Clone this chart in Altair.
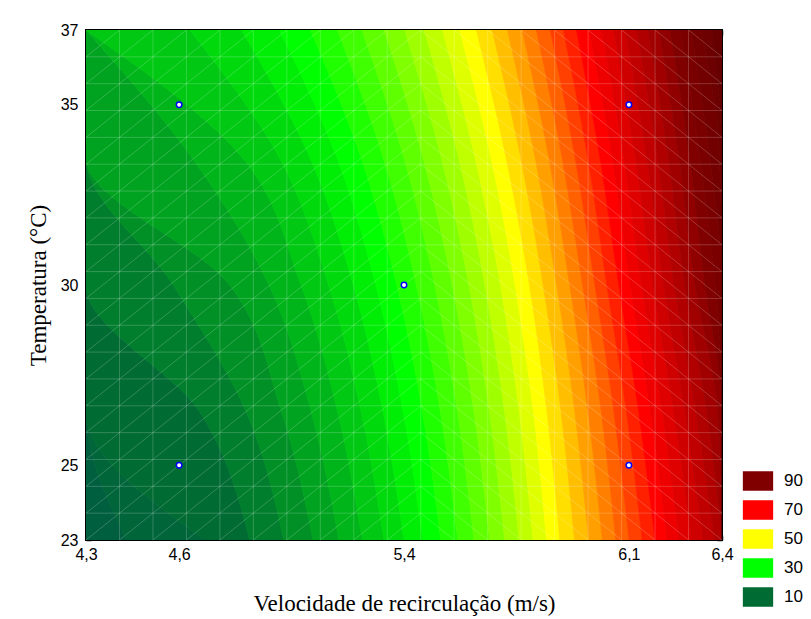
import altair as alt
import pandas as pd

# ---- axis (coded units, labelled with the real factor values) ----
X_MIN, X_MAX = -1.414, 1.414
Y_MIN, Y_MAX = -1.414, 1.414
X_TICKS = [-1.414, -1.0, 0.0, 1.0, 1.414]
X_TICK_LABELS = ["4,3", "4,6", "5,4", "6,1", "6,4"]
Y_TICKS = [-1.414, -1.0, 0.0, 1.0, 1.414]
Y_TICK_LABELS = ["23", "25", "30", "35", "37"]

# ---- contour levels (upper bound of each band) ----
LEVELS = [5, 7.5, 10, 12.5, 15, 17.5, 20, 22.5, 25, 27.5, 30, 32.5, 35, 37.5,
          40, 42.5, 45, 47.5, 50, 52.5, 55, 57.5, 60, 62.5, 65, 67.5, 70,
          72.5, 75, 77.5, 80, 82.5, 85, 87.5, 90, 92.5, 95, 97.5, 100]
TOP_LEVEL = 102.5

# rows (coded temperature) at which contour crossings were read
ROW_Y = [1.414, 0.707, 0.0, -0.707, -1.414]

# x position (coded velocity) where each contour level crosses each row
CROSS_ROW1 = [-1.414, -1.414, -1.414, -1.414, -1.414, -1.414, -1.414, -0.952,
              -0.722, -0.554, -0.416, -0.296, -0.187, -0.088, 0.003, 0.090,
              0.171, 0.248, 0.322, 0.392, 0.460, 0.526, 0.589, 0.650, 0.709,
              0.767, 0.823, 0.878, 0.932, 0.984, 1.035, 1.085, 1.134, 1.183,
              1.230, 1.276, 1.321, 1.367, 1.411]
CROSS_ROW2 = [-1.414, -1.414, -1.414, -1.414, -1.414, -0.943, -0.719, -0.554,
              -0.418, -0.298, -0.191, -0.092, 0.000, 0.085, 0.166, 0.243,
              0.316, 0.387, 0.454, 0.519, 0.583, 0.644, 0.703, 0.761, 0.817,
              0.871, 0.925, 0.977, 1.028, 1.078, 1.127, 1.175, 1.222, 1.269,
              1.315, 1.359, 1.403, 1.414, 1.414]
CROSS_ROW3 = [-1.414, -1.414, -1.414, -1.026, -0.775, -0.600, -0.458, -0.335,
              -0.225, -0.125, -0.032, 0.055, 0.137, 0.215, 0.289, 0.360,
              0.429, 0.494, 0.558, 0.619, 0.679, 0.737, 0.794, 0.849, 0.902,
              0.955, 1.006, 1.056, 1.106, 1.154, 1.201, 1.248, 1.294, 1.338,
              1.383, 1.414, 1.414, 1.414, 1.414]
CROSS_ROW4 = [-1.414, -1.414, -0.906, -0.700, -0.543, -0.411, -0.294, -0.189,
              -0.092, -0.002, 0.083, 0.163, 0.239, 0.312, 0.381, 0.448,
              0.513, 0.576, 0.636, 0.699, 0.760, 0.819, 0.878, 0.934, 0.990,
              1.044, 1.096, 1.148, 1.199, 1.249, 1.298, 1.347, 1.395, 1.414,
              1.414, 1.414, 1.414, 1.414, 1.414]
CROSS_ROW5 = [-1.233, -0.883, -0.686, -0.534, -0.404, -0.289, -0.185, -0.089,
              0.000, 0.084, 0.164, 0.239, 0.311, 0.381, 0.448, 0.512,
              0.574, 0.634, 0.693, 0.758, 0.821, 0.882, 0.942, 1.001, 1.059,
              1.116, 1.170, 1.224, 1.278, 1.330, 1.381, 1.414, 1.414, 1.414,
              1.414, 1.414, 1.414, 1.414, 1.414]

# colour anchors
COLOR_DOMAIN = [0, 10, 30, 50, 70, 90, 105]
COLOR_RANGE = ["#00524a", "#006b33", "#00ff00", "#ffff00", "#ff0000", "#800000", "#5a0000"]
LEGEND_VALUES = [90, 70, 50, 30, 10]

# design points (coded units)
POINT_X = [-1, -1, 0, 1, 1]
POINT_Y = [-1, 1, 0, -1, 1]

# ---- build the band table ----
rows = [CROSS_ROW1, CROSS_ROW2, CROSS_ROW3, CROSS_ROW4, CROSS_ROW5]
uppers = LEVELS + [TOP_LEVEL]
recs = []
for k, u in enumerate(uppers):
    for ry, cross in zip(ROW_Y, rows):
        left = X_MIN if k == 0 else cross[k - 1]
        right = cross[k] if k < len(LEVELS) else X_MAX
        recs.append({"level": u, "band": k, "ty": ry, "vx": left, "vx2": right})
bands = pd.DataFrame(recs)
points = pd.DataFrame({"vx": POINT_X, "ty": POINT_Y})

# ---- faint triangulation mesh of the surface rendering ----
mesh_n = 19
h = (X_MAX - X_MIN) / mesh_n
mesh_x = pd.DataFrame({"m": [X_MIN + i * h for i in range(1, mesh_n)]})
mesh_y = pd.DataFrame({"m": [Y_MIN + i * h for i in range(1, mesh_n)]})
diag = []
for i in range(mesh_n):
    for j in range(mesh_n):
        x0, x1 = X_MIN + i * h, X_MIN + (i + 1) * h
        y0, y1 = Y_MIN + j * h, Y_MIN + (j + 1) * h
        if i < 10:
            diag.append({"a": x0, "b": y0, "a2": x1, "b2": y1})
        else:
            diag.append({"a": x0, "b": y1, "a2": x1, "b2": y0})
diag = pd.DataFrame(diag)


def label_expr(vals, labels):
    s = ""
    for v, l in zip(vals, labels):
        s += f"abs(datum.value - ({v})) < 0.01 ? '{l}' : "
    return s + "''"


xs = alt.Scale(domain=[X_MIN, X_MAX], nice=False, zero=False)
ys = alt.Scale(domain=[Y_MIN, Y_MAX], nice=False, zero=False)
cs = alt.Scale(domain=COLOR_DOMAIN, range=COLOR_RANGE, interpolate="rgb")

SANS = "Liberation Sans"
SERIF = "Liberation Serif"

x_axis = alt.Axis(values=X_TICKS, labelExpr=label_expr(X_TICKS, X_TICK_LABELS),
                  orient="bottom", offset=-5, tickSize=5, tickColor="black", tickWidth=1.5,
                  domain=False, grid=False, labelFont=SANS, labelFontSize=16,
                  labelColor="black", labelPadding=6, labelFlush=False,
                  title="Velocidade de recirculação (m/s)", titleFont=SERIF,
                  titleFontSize=23, titleFontWeight="normal", titleColor="black",
                  titlePadding=30)
y_axis = alt.Axis(values=Y_TICKS, labelExpr=label_expr(Y_TICKS, Y_TICK_LABELS),
                  orient="left", offset=-5, tickSize=5, tickColor="black", tickWidth=1.5,
                  domain=False, grid=False, labelFont=SANS, labelFontSize=16,
                  labelColor="black", labelPadding=8, labelFlush=False,
                  title="Temperatura (°C)", titleFont=SERIF, titleFontSize=23,
                  titleFontWeight="normal", titleColor="black", titlePadding=10)
x_axis_top = alt.Axis(values=X_TICKS, orient="top", offset=-5, tickSize=5,
                      tickColor="black", tickWidth=1.5, domain=False, grid=False,
                      labels=False, title=None)
y_axis_right = alt.Axis(values=Y_TICKS, orient="right", offset=-5, tickSize=5,
                        tickColor="black", tickWidth=1.5, domain=False, grid=False,
                        labels=False, title=None)

band_layer = alt.Chart(bands).mark_area(
    orient="horizontal", interpolate="monotone", clip=True, strokeWidth=0.8, opacity=1
).encode(
    y=alt.Y("ty:Q", scale=ys, axis=y_axis),
    x=alt.X("vx:Q", scale=xs, axis=x_axis),
    x2="vx2:Q",
    color=alt.Color("level:Q", scale=cs, legend=alt.Legend(
        type="symbol", values=LEGEND_VALUES, title=None, orient="none",
        legendX=662, legendY=441, direction="vertical", padding=0,
        symbolType="M-1.6,-1L1.6,-1L1.6,1L-1.6,1Z", symbolSize=324,
        symbolStrokeColor="black", symbolStrokeWidth=1.5, symbolOpacity=1,
        labelFont=SANS, labelFontSize=17, labelColor="black", labelOffset=16,
        rowPadding=5)),
    stroke=alt.Stroke("level:Q", scale=cs, legend=None),
    detail="band:N",
)

MESH_OPACITY = 0.2
mesh_v = alt.Chart(mesh_x).mark_rule(color="white", opacity=MESH_OPACITY, strokeWidth=1).encode(
    x=alt.X("m:Q", scale=xs, axis=None))
mesh_h = alt.Chart(mesh_y).mark_rule(color="white", opacity=MESH_OPACITY, strokeWidth=1).encode(
    y=alt.Y("m:Q", scale=ys, axis=None))
mesh_d = alt.Chart(diag).mark_rule(color="white", opacity=MESH_OPACITY, strokeWidth=1).encode(
    x=alt.X("a:Q", scale=xs, axis=None), y=alt.Y("b:Q", scale=ys, axis=None),
    x2="a2:Q", y2="b2:Q")

point_layer = alt.Chart(points).mark_point(
    shape="circle", filled=True, fill="white", stroke="#0000ff", strokeWidth=1.5,
    size=30, opacity=1
).encode(
    x=alt.X("vx:Q", scale=xs, axis=x_axis_top),
    y=alt.Y("ty:Q", scale=ys, axis=y_axis_right),
)

chart = alt.layer(band_layer, mesh_v, mesh_h, mesh_d, point_layer).resolve_axis(
    x="independent", y="independent"
).properties(
    width=636, height=510,
    autosize=alt.AutoSizeParams(type="none"),
    padding={"left": 86, "top": 30, "right": 89, "bottom": 79},
    background="white",
).configure_view(stroke="black", strokeWidth=2)

chart.save("out.html", embed_options={"renderer": "svg", "actions": False})
